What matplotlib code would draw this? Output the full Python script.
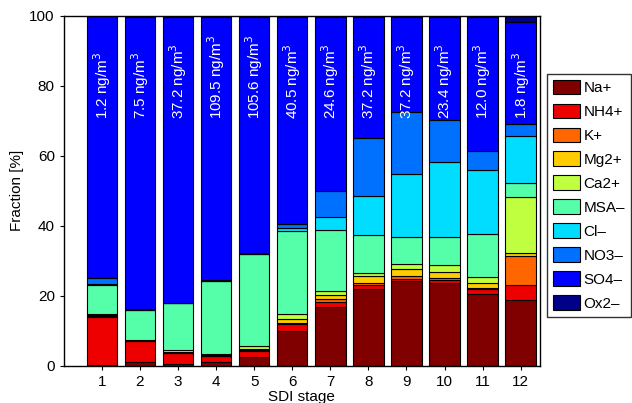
import numpy as np
import matplotlib
matplotlib.use("Agg")
import matplotlib.pyplot as plt

plt.rcParams["font.family"] = ["Liberation Sans", "DejaVu Sans"]
plt.rcParams["font.size"] = 11

# SDI stages and ion mass fractions [%], bottom to top of each stack
stages = np.arange(1, 13)
na = [0.2, 1.0, 0.6, 1.1, 2.4, 9.9, 16.9, 21.8, 24.3, 23.7, 20.4, 18.8]
nh4 = [13.8, 6.1, 2.9, 1.7, 1.9, 1.9, 1.4, 1.2, 0.5, 0.7, 1.4, 4.4]
k = [0.2, 0.1, 0.1, 0.1, 0.3, 0.5, 0.7, 0.7, 0.8, 0.6, 0.4, 8.1]
mg = [0.2, 0.05, 0.3, 0.1, 0.3, 1.1, 1.3, 1.8, 1.9, 1.9, 1.3, 0.8]
ca = [0.3, 0.05, 0.5, 0.3, 0.7, 1.3, 1.1, 1.1, 1.5, 1.8, 1.9, 16.0]
msa = [8.4, 8.5, 13.4, 21.0, 26.4, 23.8, 17.3, 10.7, 7.7, 8.2, 12.3, 4.0]
cl = [0.2, 0.1, 0.1, 0.05, 0.05, 1.0, 3.7, 11.2, 18.1, 21.3, 18.1, 13.7]
no3 = [1.7, 0.2, 0.1, 0.05, 0.05, 0.9, 7.5, 16.5, 17.7, 12.0, 5.7, 3.3]
so4 = [75.0, 83.6, 81.7, 75.3, 67.6, 59.3, 49.8, 34.7, 27.2, 29.5, 38.2, 29.1]
ox = [0.0, 0.3, 0.3, 0.3, 0.3, 0.3, 0.3, 0.3, 0.3, 0.3, 0.3, 1.8]

# total mass concentration per stage
conc = ["1.2", "7.5", "37.2", "109.5", "105.6", "40.5",
        "24.6", "37.2", "37.2", "23.4", "12.0", "1.8"]

labels = ["Na+", "NH4+", "K+", "Mg2+", "Ca2+", "MSA–", "Cl–", "NO3–", "SO4–", "Ox2–"]
colors = ["#800000", "#EE0000", "#FF6600", "#FFCC00", "#BFFF3F",
          "#55FFAA", "#00DDFF", "#0070FF", "#0000FF", "#000088"]
series = [na, nh4, k, mg, ca, msa, cl, no3, so4, ox]

fig = plt.figure(figsize=(6.32, 4.03), dpi=100)
ax = fig.add_axes([0.101, 0.0926, 0.753, 0.868])

bottom = np.zeros(len(stages))
for vals, lab, col in zip(series, labels, colors):
    vals = np.asarray(vals, dtype=float)
    ax.bar(stages, vals, width=0.8, bottom=bottom, color=col,
           edgecolor="black", linewidth=0.8, label=lab)
    bottom += vals

for x, c in zip(stages, conc):
    ax.text(x, 70.5, f"{c} ng/m$^3$", rotation=90, ha="center", va="bottom",
            color="white", fontsize=11)

ax.set_xlim(0, 12.5)
ax.set_ylim(0, 100)
ax.set_xticks(stages)
ax.set_yticks([0, 20, 40, 60, 80, 100])
ax.tick_params(direction="out", length=3, width=0.8)
for sp in ax.spines.values():
    sp.set_linewidth(1.0)
ax.set_xlabel("SDI stage", labelpad=1)
ax.set_ylabel("Fraction [%]")

leg = ax.legend(loc="upper left", bbox_to_anchor=(1.015, 0.835), frameon=True,
                fancybox=False, edgecolor="black", borderaxespad=0,
                handlelength=1.75, handleheight=1.1, labelspacing=0.55,
                handletextpad=0.25, borderpad=0.4)
leg.get_frame().set_linewidth(1.0)

fig.savefig("out.png", dpi=100)
